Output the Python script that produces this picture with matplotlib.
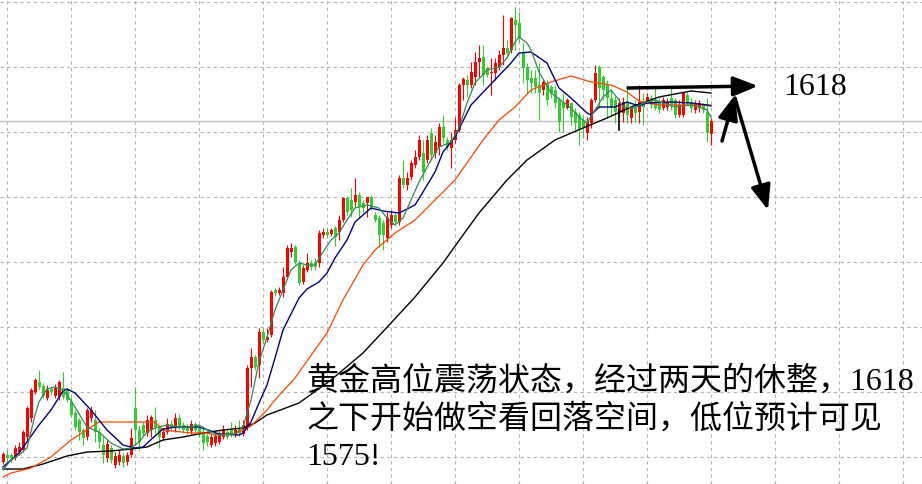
import matplotlib
matplotlib.use("Agg")
import matplotlib.pyplot as plt
import numpy as np

# gold candles, one per bar (price)
opens = [1524.5, 1526.25, 1526.25, 1525.5, 1527, 1527.5, 1530.75, 1535.5, 1542, 1544.5,
         1543.5, 1540.5, 1542.75, 1541, 1540.75, 1543, 1542.5, 1539.5, 1536.75, 1535,
         1532.5, 1530.75, 1535.5, 1535, 1532, 1528.75, 1525.5, 1528, 1523.75, 1524.5,
         1526, 1524.5, 1526.25, 1538, 1532.5, 1533.75, 1531.75, 1532.5, 1535, 1533.25,
         1530.5, 1532, 1534, 1533, 1535.5, 1533.75, 1533.25, 1532.25, 1534, 1533,
         1532, 1531, 1528.75, 1529.25, 1529.5, 1530.75, 1532, 1532.5, 1531.25, 1533,
         1531.5, 1533.25, 1548, 1550.75, 1548.75, 1557, 1555, 1556.25, 1567.5, 1566.75,
         1566.75, 1570.75, 1577, 1578.25, 1574.25, 1569.5, 1572.5, 1574.25, 1574.5, 1574.25,
         1581.25, 1582, 1581.5, 1583, 1582, 1585, 1590.5, 1590, 1589.5, 1591.25,
         1589.25, 1589.25, 1590.75, 1586.25, 1585.5, 1584.25, 1580.5, 1583.75, 1586.25, 1584.5,
         1595.5, 1593.75, 1595.75, 1598.75, 1600.75, 1601.75, 1600, 1606.75, 1601.75, 1603.25,
         1608.25, 1605, 1603, 1605, 1607.5, 1618.75, 1620, 1618.75, 1620.75, 1624.5,
         1625.75, 1623, 1621.75, 1621.75, 1623.25, 1626.25, 1628, 1627.5, 1635, 1634.25,
         1626.75, 1623.25, 1620.5, 1620.5, 1618.75, 1617.5, 1619.25, 1618.25, 1617.5, 1615,
         1614.5, 1613, 1614.25, 1612, 1611.25, 1610, 1606.75, 1609.25, 1615, 1623.25,
         1620.75, 1618.75, 1615.5, 1615, 1612, 1611.75, 1614.5, 1610.5, 1613, 1612,
         1614.5, 1614.5, 1615.5, 1615, 1614.5, 1613, 1613.25, 1615.5, 1615, 1611.25,
         1611.25, 1616.25, 1614.5, 1612.5, 1613, 1613.75, 1612, 1606.5]
highs = [1527, 1527.5, 1526.75, 1528.75, 1529.5, 1532.5, 1538.5, 1543, 1545.5, 1547.5,
         1544.25, 1543.75, 1543.5, 1544, 1545, 1547, 1543, 1540.75, 1537.5, 1535.5,
         1533, 1538, 1538.5, 1537.5, 1533, 1531.25, 1530, 1528.75, 1527, 1527.5,
         1526.75, 1527, 1533, 1543.25, 1533.75, 1534.5, 1536.25, 1536.25, 1538.25, 1533.75,
         1533, 1535.5, 1535, 1536.75, 1536.5, 1534.5, 1534, 1535, 1534.5, 1533.5,
         1533.25, 1532, 1531.5, 1532, 1532.25, 1533.75, 1532.5, 1534.5, 1533.75, 1535,
         1535, 1548.75, 1553, 1551.25, 1558, 1558, 1558, 1567.5, 1568, 1568.25,
         1573.25, 1578.75, 1579.25, 1578.75, 1575, 1573.75, 1576.75, 1575, 1575.5, 1582.5,
         1583, 1583, 1583, 1583.5, 1586.25, 1590.75, 1591, 1593, 1595.5, 1592,
         1590, 1590.75, 1591.25, 1587, 1586.25, 1585, 1587, 1587.5, 1587, 1596.25,
         1600, 1597, 1600, 1602.5, 1606.25, 1605, 1606.25, 1608, 1606.25, 1609.25,
         1611.25, 1605.75, 1607, 1610.75, 1619.25, 1620.75, 1621.25, 1624.5, 1627, 1628.75,
         1628.75, 1623.5, 1625.5, 1625.5, 1627.5, 1636.25, 1630, 1635.75, 1638.25, 1637,
         1629.25, 1624.25, 1622.5, 1622.5, 1624.25, 1620, 1620, 1618.75, 1618.75, 1615.75,
         1616.75, 1615.5, 1614.5, 1613, 1612, 1611.25, 1610.75, 1615.5, 1623.75, 1623.75,
         1621.25, 1620, 1617.5, 1616.25, 1615.5, 1615.75, 1618.75, 1613.25, 1615, 1618.75,
         1616.75, 1616.75, 1616.25, 1618, 1615.5, 1615.75, 1615.5, 1618, 1615.5, 1615,
         1617, 1617, 1615.5, 1615, 1615, 1614.25, 1615.5, 1610.5]
lows = [1524, 1524.25, 1524.5, 1525, 1526.25, 1527, 1530, 1534.5, 1541.5, 1542.5,
        1540.5, 1540, 1541.25, 1540.5, 1540, 1540.25, 1539.5, 1535.75, 1532.5, 1530,
        1528.75, 1530, 1534.5, 1529.5, 1528, 1524.25, 1524.5, 1524.25, 1523, 1523.75,
        1523.25, 1523.75, 1525.75, 1528.75, 1527.5, 1531, 1531, 1530.75, 1531.75, 1528,
        1530, 1531.5, 1532.25, 1532, 1532.75, 1531.75, 1531.5, 1531.5, 1532, 1530.75,
        1527.5, 1528.5, 1528.25, 1528.5, 1529, 1530.25, 1530.25, 1530.75, 1530.75, 1531,
        1531, 1532.5, 1543.25, 1547.5, 1545.5, 1554.25, 1554.5, 1555.75, 1566, 1566.25,
        1565.75, 1570.25, 1575.75, 1574, 1568.75, 1569, 1572, 1572.5, 1572.5, 1573.25,
        1580.5, 1580.5, 1581, 1578.5, 1580, 1584.5, 1586.25, 1585.75, 1588.25, 1585.5,
        1587, 1585.75, 1587.5, 1584.5, 1578.25, 1577.5, 1579.5, 1583, 1583.75, 1583.75,
        1593, 1592.5, 1595, 1598, 1600, 1595, 1599.25, 1600, 1600.5, 1601.25,
        1604.25, 1602.5, 1598, 1604.25, 1607, 1615, 1615.75, 1618, 1618.75, 1620.75,
        1618.75, 1620.75, 1616.25, 1620, 1622.5, 1623.75, 1625.5, 1626.75, 1627.5, 1629.5,
        1619.25, 1616.75, 1616.75, 1616.75, 1610, 1616.25, 1613.75, 1615.5, 1613, 1607,
        1607, 1612.75, 1608.75, 1607.5, 1603.75, 1605.5, 1605, 1608, 1614.5, 1613,
        1615, 1610.5, 1611.25, 1609.25, 1610.5, 1609.5, 1609.25, 1609.25, 1609.5, 1609.25,
        1608.75, 1614.25, 1613, 1612.5, 1611.75, 1612.5, 1612.5, 1612.5, 1610.5, 1610.75,
        1610.75, 1613.75, 1612, 1611.75, 1612, 1611.75, 1604.5, 1603.75]
closes = [1526.5, 1525.5, 1525.5, 1528, 1528.25, 1532, 1538, 1542.5, 1545, 1543.25,
          1541, 1542.5, 1542, 1543, 1544.5, 1540.75, 1540, 1536.25, 1533.25, 1532,
          1530.5, 1537.5, 1537.5, 1532, 1529.5, 1526.25, 1529, 1525, 1526, 1526.25,
          1524.25, 1526.25, 1530.5, 1532.5, 1529.5, 1531.75, 1535, 1535.75, 1533.25, 1530.75,
          1532, 1534, 1533, 1535.5, 1533.25, 1532.5, 1532.25, 1534, 1532.5, 1531.25,
          1529.25, 1529.5, 1530.75, 1531, 1531.25, 1532.5, 1530.75, 1531.25, 1532.5, 1531.75,
          1533.75, 1548, 1550.75, 1548.25, 1557, 1555, 1555.75, 1567, 1566.75, 1567.5,
          1570.75, 1578, 1578, 1574.5, 1569.25, 1573, 1574.25, 1573.25, 1573.25, 1581.75,
          1582, 1581.25, 1582.5, 1580.75, 1585, 1590.5, 1587, 1587.5, 1591.25, 1588.25,
          1588, 1590.75, 1588.25, 1585, 1581.25, 1581.25, 1585.5, 1586.25, 1584.5, 1595.5,
          1593.75, 1595.5, 1599.25, 1600.75, 1605, 1597, 1605, 1601.25, 1604.5, 1608.25,
          1605.5, 1603.25, 1605, 1607.5, 1618.75, 1620.25, 1618.75, 1622, 1624.5, 1625.5,
          1621.25, 1621.25, 1622, 1624.25, 1626.25, 1628, 1626.75, 1635.5, 1633.75, 1630.5,
          1623, 1620, 1619.25, 1618.25, 1616.75, 1619.5, 1615, 1616.75, 1614.25, 1609.5,
          1613, 1615, 1610.75, 1609.25, 1607.5, 1608.25, 1609.5, 1615, 1621.75, 1618,
          1617.5, 1615.5, 1613, 1612, 1614.25, 1614.5, 1611.25, 1613, 1611.75, 1614.5,
          1613.25, 1615.75, 1613.75, 1613, 1612.5, 1615, 1614.5, 1613.75, 1611.25, 1613.75,
          1616.75, 1614.25, 1613, 1614.25, 1614.25, 1612.5, 1606.75, 1609.75]

# moving averages, read at selected bars
green_idx = [0, 2, 4, 6, 8, 9, 11, 13, 15, 16, 18, 21, 24, 27, 30, 32, 34, 36, 38, 41,
             44, 47, 49, 52, 54, 58, 60, 62, 64, 66, 68, 70, 72, 74, 76, 78, 80, 82, 84, 86,
             88, 91, 94, 96, 98, 100, 102, 104, 107, 109, 112, 114, 116, 118, 121, 124, 126, 128, 129, 131,
             132, 134, 137, 140, 142, 144, 146, 148, 150, 152, 154, 155, 158, 160, 163, 165, 168, 172, 174, 176,
             177]
green_ma = [1522.5, 1525, 1526.25, 1528, 1536.25, 1539.5, 1542.75, 1543.25, 1542.5, 1541.25,
            1538.25, 1533.25, 1532, 1529.25, 1527.75, 1528, 1529.5, 1532, 1533, 1533.75,
            1533.25, 1533.25, 1533.75, 1532, 1531.25, 1531.5, 1533.25, 1540, 1549.5, 1555.75,
            1562.5, 1567.5, 1572.5, 1574.25, 1573.75, 1573.75, 1577, 1580, 1581.75, 1585,
            1588, 1588.75, 1588, 1585.5, 1583.75, 1585.5, 1590, 1594.5, 1600, 1603.25,
            1604.5, 1608, 1614.25, 1619.25, 1622.5, 1623.25, 1625.5, 1629.5, 1630.75, 1629.25,
            1627.5, 1622, 1616.75, 1614.5, 1613, 1610.75, 1609.25, 1612.5, 1615.75, 1617.5,
            1615, 1613.25, 1613, 1614.25, 1615, 1614.25, 1613.25, 1613.75, 1613.25, 1612.5,
            1610.75]
navy_idx = [0, 4, 9, 12, 15, 16, 18, 22, 26, 30, 33, 35, 38, 40, 43, 49, 52, 54, 59, 60,
            62, 64, 66, 68, 70, 72, 74, 76, 79, 81, 83, 86, 88, 92, 95, 99, 103, 105, 108, 110,
            113, 117, 122, 127, 129, 132, 136, 139, 142, 146, 147, 149, 153, 156, 159, 161, 167, 172, 176, 177]
navy_ma = [1523.25, 1526.75, 1533.75, 1537.5, 1542.25, 1542.75, 1541.75, 1537.5, 1532.5, 1528.75,
           1528, 1528.25, 1531, 1532.75, 1533.25, 1533.25, 1532.25, 1531.5, 1531.25, 1531.75,
           1534.5, 1539.25, 1543.75, 1550.5, 1557.5, 1561.5, 1565.5, 1567.75, 1569.5, 1571.75,
           1575.5, 1580, 1584.5, 1588, 1587.25, 1586.75, 1588.75, 1592, 1597, 1602,
           1605.75, 1613.75, 1619, 1624.25, 1626.75, 1627, 1624.25, 1618, 1615.5, 1611.75,
           1611.25, 1613.25, 1613.25, 1614.5, 1613.5, 1614.25, 1614.5, 1614.25, 1613.75, 1613.5]
orange_idx = [0, 2, 7, 12, 17, 22, 24, 38, 40, 47, 51, 53, 58, 60, 62, 64, 66, 68, 73, 81,
              85, 90, 93, 98, 103, 108, 113, 120, 124, 128, 132, 137, 142, 147, 152, 156, 159, 164, 177]
orange_ma = [1520.75, 1521.75, 1523, 1525.75, 1530, 1533.25, 1534.5, 1534.5, 1532.5, 1531.75,
             1531.75, 1531.25, 1531.5, 1532.5, 1533.5, 1535.5, 1537.5, 1540, 1545.5, 1556.75,
             1565, 1573.75, 1577.5, 1581.75, 1585, 1590, 1595, 1605, 1610, 1613.25,
             1617.5, 1619.5, 1621, 1619.5, 1618.75, 1617, 1614.75, 1613.75, 1613.75]
black_idx = [0, 5, 10, 16, 21, 27, 32, 36, 40, 45, 50, 55, 60, 63, 66, 74, 82, 90, 97, 103,
             110, 115, 119, 126, 131, 138, 145, 151, 157, 164, 172, 177]
black_ma = [1522.75, 1522.75, 1524, 1526, 1527, 1527.25, 1527.75, 1528.25, 1530, 1530.75,
            1531.75, 1532.5, 1533, 1534.25, 1536.25, 1539.25, 1545, 1551.75, 1559.25, 1565.75,
            1574.25, 1581.25, 1586.75, 1595, 1600, 1605, 1608, 1610.5, 1613.25, 1615.75,
            1617.25, 1616.75]

target_high = 1618
note_lines = ["黄金高位震荡状态，经过两天的休整，1618",
              "之下开始做空看回落空间，低位预计可见",
              "1575!"]

fig = plt.figure(figsize=(9.22, 4.84), dpi=100)
ax = fig.add_axes([0, 0, 1, 1])
ax.set_xlim(-0.75, 229.75)
ax.set_ylim(1519, 1640)
for s in ax.spines.values():
    s.set_visible(False)
ax.tick_params(left=False, bottom=False, labelleft=False, labelbottom=False)

# dashed grid like the terminal
ax.set_xticks(np.arange(1, 230, 16))
ax.set_yticks(1607 + 16.25 * np.arange(-5, 3))
ax.grid(True, color="#b4b4b4", linestyle=(0, (3, 3)), linewidth=0.8)
ax.set_axisbelow(True)

# current price line
ax.axhline(closes[-1], color="#c0c0c0", lw=1.0, zorder=1)

o = np.array(opens)
h = np.array(highs)
l = np.array(lows)
c = np.array(closes)
x = np.arange(len(o))
up = c >= o
cols = np.where(up, "#ff0000", "#32cd32")
ax.vlines(x, l, h, colors=cols, lw=0.8, zorder=2)
body = np.maximum(np.abs(c - o), 0.3)
ax.bar(x, body, bottom=np.minimum(o, c), width=0.75, color=cols, linewidth=0, zorder=3)

ax.plot(black_idx, black_ma, color="black", lw=1.0, zorder=4)
ax.plot(orange_idx, orange_ma, color="#ff4500", lw=0.9, zorder=4)
ax.plot(navy_idx, navy_ma, color="#000080", lw=1.0, zorder=4)
ax.plot(green_idx, green_ma, color="#2e8b57", lw=0.9, zorder=4)

# hand drawn arrows
arr = dict(arrowstyle="-|>,head_length=0.75,head_width=0.3", color="black",
           lw=2.5, shrinkA=0, shrinkB=0, mutation_scale=20)
ax.annotate("", xy=(188.75, target_high + 0.5), xytext=(156.25, target_high), arrowprops=arr, zorder=6)
ax.annotate("", xy=(183, 1616.25), xytext=(179.75, 1604.75), arrowprops=arr, zorder=6)
ax.annotate("", xy=(191.25, 1587.5), xytext=(183, 1615.5), arrowprops=arr, zorder=6)
ax.plot([154, 154], [1607.5, 1612.5], color="black", lw=1.2, zorder=6)

ax.text(195, target_high + 0.25, str(target_high), fontsize=23, family="Liberation Serif",
        ha="left", va="center", zorder=7)

fam = ["Liberation Serif", "Noto Sans CJK SC"]
for k, line in enumerate(note_lines):
    ax.text(75.75, 1544.75 - 9.5 * k, line, fontsize=23, family=fam, fontweight="light",
            ha="left", va="center", zorder=7)

fig.savefig("out.png", dpi=100)
